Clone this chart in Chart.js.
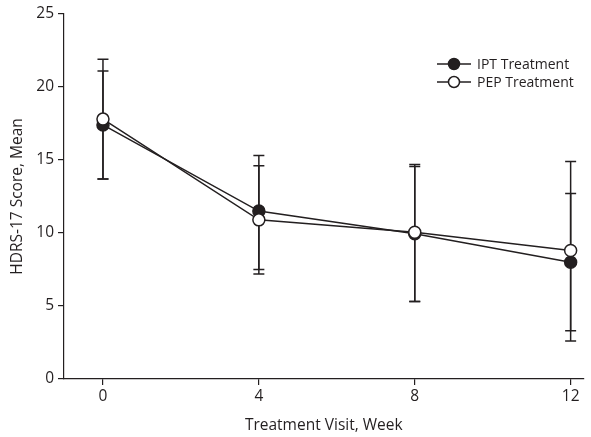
<!DOCTYPE html>
<html>
<head>
<meta charset="utf-8">
<script src="https://cdn.jsdelivr.net/npm/chart.js@4.4.1/dist/chart.umd.min.js"></script>
<style>
  html, body { margin: 0; padding: 0; background: #fff; }
  #wrap { width: 591px; height: 437px; }
</style>
</head>
<body>
<div id="wrap"><canvas id="hdrsChart" width="591" height="437"></canvas></div>
<script>
// Data
const weeks = [0, 4, 8, 12];
const xTicks = [0, 4, 8, 12];
const yTicks = [0, 5, 10, 15, 20, 25];

const iptMean = [17.4, 11.5, 9.95, 8.0];
const iptLow = [13.7, 7.5, 5.3, 3.3];
const iptHigh = [21.1, 15.3, 14.7, 12.7];

const pepMean = [17.8, 10.9, 10.05, 8.8];
const pepLow = [13.7, 7.2, 5.3, 2.6];
const pepHigh = [21.9, 14.6, 14.55, 14.9];

const seriesNames = ['IPT Treatment', 'PEP Treatment'];

const ink = '#231f20';
const fontFamily = '"Open Sans", "Noto Sans", sans-serif';

// error bars under the markers
const errorBars = {
  id: 'errorBars',
  beforeDatasetsDraw(chart) {
    const { ctx, scales: { x, y } } = chart;
    const bars = [[iptLow, iptHigh], [pepLow, pepHigh]];
    ctx.save();
    ctx.strokeStyle = ink;
    ctx.lineWidth = 1.5;
    bars.forEach(([lo, hi]) => {
      weeks.forEach((w, i) => {
        const px = x.getPixelForValue(w);
        const y0 = y.getPixelForValue(lo[i]);
        const y1 = y.getPixelForValue(hi[i]);
        ctx.beginPath();
        ctx.moveTo(px, y0); ctx.lineTo(px, y1);
        ctx.moveTo(px - 5.5, y0); ctx.lineTo(px + 5.5, y0);
        ctx.moveTo(px - 5.5, y1); ctx.lineTo(px + 5.5, y1);
        ctx.stroke();
      });
    });
    ctx.restore();
  }
};

// legend with line-marker-line icons
const lineLegend = {
  id: 'lineLegend',
  afterDraw(chart) {
    const { ctx } = chart;
    ctx.save();
    chart.data.datasets.slice().sort((a, b) => a.legendIndex - b.legendIndex).forEach((ds, i) => {
      const yy = 64 + i * 18;
      ctx.strokeStyle = ink;
      ctx.lineWidth = 1.5;
      ctx.beginPath();
      ctx.moveTo(437, yy); ctx.lineTo(471, yy);
      ctx.stroke();
      ctx.beginPath();
      ctx.arc(454, yy, 5.5, 0, Math.PI * 2);
      ctx.fillStyle = ds.pointBackgroundColor;
      ctx.fill();
      ctx.stroke();
      ctx.fillStyle = ink;
      ctx.font = '14px ' + fontFamily;
      ctx.textBaseline = 'middle';
      ctx.textAlign = 'left';
      ctx.fillText(ds.label, 477, yy + 1);
    });
    ctx.restore();
  }
};

const axisFont = { family: fontFamily, size: 15.5 };

new Chart(document.getElementById('hdrsChart').getContext('2d'), {
  type: 'line',
  data: {
    datasets: [
      {
        label: seriesNames[0],
        legendIndex: 0,
        order: 1,
        data: weeks.map((w, i) => ({ x: w, y: iptMean[i] })),
        borderColor: ink,
        borderWidth: 1.5,
        pointRadius: 6,
        pointBorderWidth: 1.5,
        pointBorderColor: ink,
        pointBackgroundColor: ink,
        tension: 0
      },
      {
        label: seriesNames[1],
        legendIndex: 1,
        order: 0,
        data: weeks.map((w, i) => ({ x: w, y: pepMean[i] })),
        borderColor: ink,
        borderWidth: 1.5,
        pointRadius: 6,
        pointBorderWidth: 1.5,
        pointBorderColor: ink,
        pointBackgroundColor: '#ffffff',
        tension: 0
      }
    ]
  },
  options: {
    responsive: false,
    animation: false,
    layout: { padding: { top: 14, right: 0, left: 0, bottom: 0 } },
    plugins: { legend: { display: false }, tooltip: { enabled: false } },
    scales: {
      x: {
        type: 'linear',
        min: -1,
        max: 12.33,
        afterBuildTicks: s => { s.ticks = xTicks.map(v => ({ value: v })); },
        afterFit: s => { s.height = 58; s.paddingLeft = 0; s.paddingRight = 0; },
        grid: { drawOnChartArea: false, tickLength: 6, color: ink, lineWidth: 1.2 },
        border: { color: ink, width: 1.2 },
        ticks: { color: ink, font: axisFont, padding: 2, maxRotation: 0 },
        title: { display: true, text: 'Treatment Visit, Week', color: ink, font: axisFont, padding: { top: 0, bottom: 2 } }
      },
      y: {
        min: 0,
        max: 25,
        afterBuildTicks: s => { s.ticks = yTicks.map(v => ({ value: v })); },
        afterFit: s => { s.width = 64; s.paddingTop = 0; s.paddingBottom = 0; },
        grid: { drawOnChartArea: false, tickLength: 6, color: ink, lineWidth: 1.2 },
        border: { color: ink, width: 1.2 },
        ticks: { color: ink, font: axisFont, padding: 4 },
        title: { display: true, text: 'HDRS-17 Score, Mean', color: ink, font: axisFont, padding: { top: 8, bottom: 0 } }
      }
    }
  },
  plugins: [errorBars, lineLegend]
});
</script>
</body>
</html>
